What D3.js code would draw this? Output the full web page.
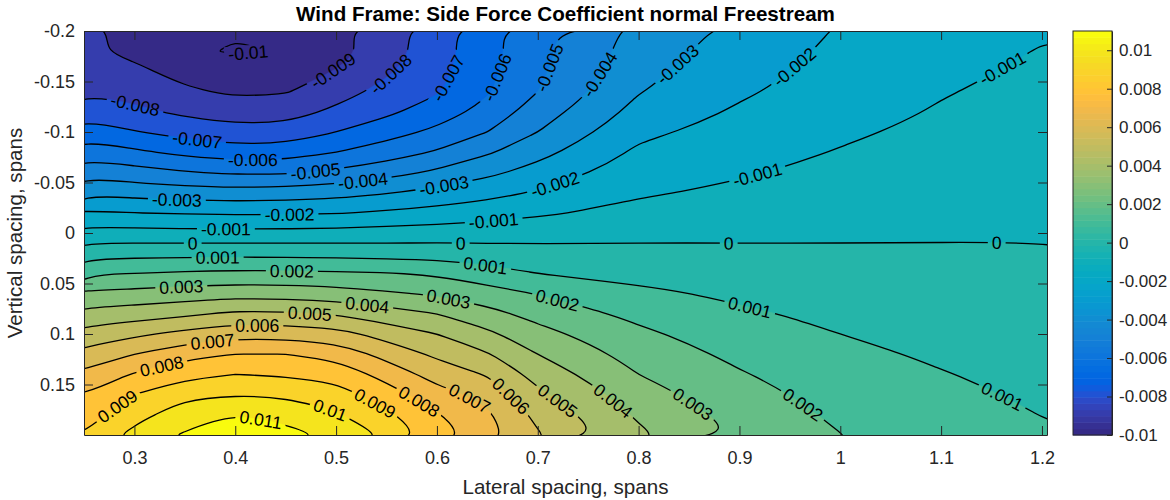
<!DOCTYPE html>
<html>
<head>
<meta charset="utf-8">
<script src="https://cdn.jsdelivr.net/npm/d3@7"></script>
<style>
  body { margin: 0; background: #fff; }
  text { font-family: "Liberation Sans", Arial, Helvetica, sans-serif; }
</style>
</head>
<body>
<div id="chart"></div>
<script>
// Grid columns: lateral spacing (spans)
const lateral = [0.25, 0.3, 0.35, 0.4, 0.45, 0.5, 0.55, 0.6, 0.65, 0.7, 0.8, 0.9, 1.0, 1.1, 1.205];
// Grid rows: vertical spacing (spans), top of plot first
const vertical = [-0.2, -0.18, -0.16, -0.14, -0.12, -0.1, -0.08, -0.06, -0.04, -0.02, 0,
                  0.02, 0.04, 0.06, 0.08, 0.1, 0.12, 0.14, 0.16, 0.18, 0.2];
// Side force coefficient, one row per vertical value, one column per lateral value
const sideForce = [
  [-0.00885, -0.00915, -0.0097, -0.00995, -0.0097, -0.0092, -0.0084, -0.0074, -0.0063, -0.0053, -0.0037, -0.0027, -0.00192, -0.00145, -0.00105],
  [-0.00882, -0.00925, -0.00993, -0.01003, -0.00998, -0.0094, -0.0085, -0.00745, -0.00635, -0.0053, -0.00355, -0.00252, -0.0018, -0.0013, -0.00095],
  [-0.0085, -0.00878, -0.00935, -0.0096, -0.0095, -0.00895, -0.00813, -0.0073, -0.00625, -0.0052, -0.0033, -0.00234, -0.00166, -0.00117, -0.00085],
  [-0.0081, -0.00833, -0.00884, -0.00916, -0.00907, -0.0084, -0.00771, -0.0071, -0.0061, -0.005, -0.00305, -0.00214, -0.0015, -0.00105, -0.00075],
  [-0.00739, -0.00779, -0.00819, -0.0085, -0.00841, -0.0078, -0.0072, -0.0065, -0.00567, -0.0045, -0.00267, -0.00187, -0.00132, -0.00093, -0.00065],
  [-0.00645, -0.00694, -0.00736, -0.00765, -0.0076, -0.007, -0.0064, -0.00578, -0.005, -0.004, -0.00222, -0.00162, -0.00114, -0.00079, -0.00055],
  [-0.00542, -0.00582, -0.00625, -0.00656, -0.0065, -0.006, -0.0055, -0.0049, -0.00413, -0.00333, -0.00182, -0.00136, -0.00095, -0.00064, -0.00045],
  [-0.00429, -0.00462, -0.00493, -0.00515, -0.00514, -0.0048, -0.00438, -0.00382, -0.00323, -0.00263, -0.00147, -0.0011, -0.00074, -0.0005, -0.00035],
  [-0.00312, -0.0034, -0.00353, -0.00362, -0.00354, -0.00338, -0.00307, -0.0027, -0.00235, -0.0019, -0.00112, -0.00081, -0.00053, -0.00036, -0.00025],
  [-0.00188, -0.002, -0.00208, -0.00214, -0.00213, -0.00206, -0.00187, -0.00165, -0.0014, -0.00115, -0.0007, -0.00048, -0.00032, -0.00021, -0.00015],
  [-0.00063, -0.00067, -0.00071, -0.00071, -0.00071, -0.00067, -0.00059, -0.00053, -0.00045, -0.00038, -0.00023, -0.00016, -0.00011, -0.00007, -0.00005],
  [0.00063, 0.00067, 0.00069, 0.00071, 0.00069, 0.00067, 0.00059, 0.00056, 0.00043, 0.00033, 0.00024, 0.00016, 0.00011, 0.00008, 0.00006],
  [0.00188, 0.002, 0.00213, 0.00221, 0.0022, 0.00213, 0.00205, 0.00186, 0.00141, 0.001, 0.00071, 0.00049, 0.00033, 0.00024, 0.00017],
  [0.00318, 0.00331, 0.00347, 0.00364, 0.00357, 0.00343, 0.00313, 0.00286, 0.00243, 0.00195, 0.00121, 0.00082, 0.00056, 0.0004, 0.00029],
  [0.00432, 0.00453, 0.0048, 0.0052, 0.00514, 0.00492, 0.00444, 0.004, 0.00332, 0.00266, 0.00174, 0.00114, 0.00078, 0.00056, 0.0004],
  [0.00537, 0.0058, 0.00629, 0.00669, 0.00662, 0.00636, 0.00561, 0.005, 0.00422, 0.00333, 0.0022, 0.00145, 0.001, 0.00072, 0.00051],
  [0.00633, 0.007, 0.00767, 0.008, 0.008, 0.00767, 0.00665, 0.0058, 0.00508, 0.004, 0.0026, 0.00177, 0.0012, 0.00088, 0.00063],
  [0.00723, 0.0081, 0.00875, 0.009, 0.00891, 0.00867, 0.00762, 0.0066, 0.00592, 0.00463, 0.003, 0.00208, 0.00141, 0.00104, 0.00074],
  [0.008, 0.009, 0.00968, 0.0099, 0.00975, 0.0094, 0.0085, 0.00737, 0.00669, 0.00521, 0.00343, 0.00238, 0.00161, 0.00118, 0.00086],
  [0.00854, 0.00967, 0.01048, 0.01095, 0.01078, 0.0101, 0.0092, 0.00808, 0.00715, 0.00574, 0.00385, 0.00263, 0.00182, 0.00133, 0.00097],
  [0.00905, 0.01025, 0.0111, 0.0113, 0.0112, 0.01075, 0.0097, 0.0086, 0.0074, 0.0061, 0.0042, 0.0029, 0.00202, 0.00148, 0.00109]
];
// Contour levels, every 0.001 from -0.01 to 0.011
const levels = d3.range(-10, 12).map(k => k / 1000);
const xTicks = [0.3, 0.4, 0.5, 0.6, 0.7, 0.8, 0.9, 1, 1.1, 1.2];
const yTicks = [-0.2, -0.15, -0.1, -0.05, 0, 0.05, 0.1, 0.15];
const barTicks = [-0.01, -0.008, -0.006, -0.004, -0.002, 0, 0.002, 0.004, 0.006, 0.008, 0.01];

// MATLAB parula colormap (64 entries)
const parula = [
  [0.2081,0.1663,0.5292],[0.2116,0.1898,0.5777],[0.2123,0.2138,0.6270],[0.2081,0.2386,0.6771],
  [0.1959,0.2645,0.7279],[0.1707,0.2919,0.7792],[0.1253,0.3242,0.8303],[0.0591,0.3598,0.8683],
  [0.0117,0.3875,0.8820],[0.0060,0.4086,0.8828],[0.0165,0.4266,0.8786],[0.0329,0.4430,0.8720],
  [0.0498,0.4586,0.8641],[0.0629,0.4737,0.8554],[0.0723,0.4887,0.8467],[0.0779,0.5040,0.8384],
  [0.0793,0.5200,0.8312],[0.0749,0.5375,0.8263],[0.0641,0.5570,0.8240],[0.0488,0.5772,0.8228],
  [0.0343,0.5966,0.8199],[0.0265,0.6137,0.8135],[0.0239,0.6287,0.8038],[0.0231,0.6418,0.7913],
  [0.0228,0.6535,0.7768],[0.0267,0.6642,0.7607],[0.0384,0.6743,0.7436],[0.0590,0.6838,0.7254],
  [0.0843,0.6928,0.7062],[0.1133,0.7015,0.6859],[0.1453,0.7098,0.6646],[0.1801,0.7177,0.6424],
  [0.2178,0.7250,0.6193],[0.2586,0.7317,0.5954],[0.3022,0.7376,0.5712],[0.3482,0.7424,0.5473],
  [0.3953,0.7459,0.5244],[0.4420,0.7481,0.5033],[0.4871,0.7491,0.4840],[0.5300,0.7491,0.4661],
  [0.5709,0.7485,0.4494],[0.6099,0.7473,0.4337],[0.6473,0.7456,0.4188],[0.6834,0.7435,0.4044],
  [0.7184,0.7411,0.3905],[0.7525,0.7384,0.3768],[0.7858,0.7356,0.3633],[0.8185,0.7327,0.3498],
  [0.8507,0.7299,0.3360],[0.8824,0.7274,0.3217],[0.9139,0.7258,0.3063],[0.9450,0.7261,0.2886],
  [0.9739,0.7314,0.2666],[0.9938,0.7455,0.2403],[0.9990,0.7653,0.2164],[0.9955,0.7861,0.1967],
  [0.9880,0.8066,0.1794],[0.9789,0.8271,0.1633],[0.9697,0.8481,0.1475],[0.9626,0.8705,0.1309],
  [0.9589,0.8949,0.1132],[0.9598,0.9218,0.0948],[0.9661,0.9514,0.0755],[0.9763,0.9831,0.0538]
].map(c => d3.rgb(c[0] * 255, c[1] * 255, c[2] * 255).formatHex());

const FONT = '"Liberation Sans", Arial, Helvetica, sans-serif';
const plot = { x0: 84, x1: 1047, y0: 31, y1: 435 };
const bar = { x0: 1073, x1: 1112 };
const cMin = -0.01, cMax = 0.011;
const labelSize = 17.6;
const labelFirst = 50, labelSpacing = 268;

const svg = d3.select("#chart").append("svg")
  .attr("width", 1170)
  .attr("height", 500);
const defs = svg.append("defs");
defs.append("clipPath").attr("id", "plotClip")
  .append("rect")
  .attr("x", plot.x0).attr("y", plot.y0)
  .attr("width", plot.x1 - plot.x0).attr("height", plot.y1 - plot.y0);

// Scales
const x = d3.scaleLinear().domain([0.25, 1.205]).range([plot.x0, plot.x1]);
const y = d3.scaleLinear().domain([-0.2, 0.2]).range([plot.y0, plot.y1]);
// grid index -> data value (sample i sits at i + 0.5 in d3.contours space)
const nx = lateral.length, ny = vertical.length;
const uToX = d3.scaleLinear().domain(lateral.map((d, i) => i + 0.5)).range(lateral);
const vToY = d3.scaleLinear().domain(vertical.map((d, j) => j + 0.5)).range(vertical);
const toPx = ([u, v]) => [x(uToX(u)), y(vToY(v))];

const colorOf = v => {
  const k = Math.floor((v - cMin) / (cMax - cMin) * 64 + 1e-9);
  return parula[Math.max(0, Math.min(63, k))];
};

// Smoothing: B-spline for long rings (border points tripled so the border stays straight),
// Catmull-Rom for short rings so small loops keep their size.
const isBorder = p => p[0] === 0 || p[0] === nx || p[1] === 0 || p[1] === ny;
const controlPts = (pts, basis) => {
  const out = [];
  pts.forEach(p => {
    const q = toPx(p);
    if (basis && isBorder(p)) out.push(q, q, q); else out.push(q);
  });
  return out;
};
const curvePath = (pts, closed, basis) => {
  const curve = basis
    ? (closed ? d3.curveBasisClosed : d3.curveBasis)
    : (closed ? d3.curveCatmullRomClosed.alpha(0.5) : d3.curveCatmullRom.alpha(0.5));
  return d3.line().curve(curve)(controlPts(pts, basis));
};

const contours = d3.contours()
  .size([nx, ny])
  .thresholds(levels)(sideForce.flat());

const ringBasis = ring => ring.filter(p => !isBorder(p)).length >= 10;

// Filled bands (each level fills everything above it)
const fillG = svg.append("g").attr("clip-path", "url(#plotClip)");
fillG.append("rect")
  .attr("x", plot.x0).attr("y", plot.y0)
  .attr("width", plot.x1 - plot.x0).attr("height", plot.y1 - plot.y0)
  .attr("fill", colorOf(cMin));
fillG.selectAll("path")
  .data(contours)
  .join("path")
  .attr("d", c => c.coordinates.map(poly => poly.map(ring => {
    const pts = ring.slice(0, -1);
    return curvePath(pts, true, ringBasis(pts));
  }).join("")).join(""))
  .attr("fill-rule", "evenodd")
  .attr("fill", d => colorOf(d.value))
  .attr("stroke", d => colorOf(d.value))
  .attr("stroke-width", 0.6);

// Contour lines: rings without the grid border segments
function linesOf(geom) {
  const out = [];
  const onBorder = (a, b) =>
    (a[0] === 0 && b[0] === 0) || (a[0] === nx && b[0] === nx) ||
    (a[1] === 0 && b[1] === 0) || (a[1] === ny && b[1] === ny);
  geom.coordinates.forEach(poly => poly.forEach(ring => {
    const n = ring.length - 1;
    const basis = ringBasis(ring.slice(0, -1));
    const ok = d3.range(n).map(k => !onBorder(ring[k], ring[k + 1]));
    if (ok.every(Boolean)) { out.push({ pts: ring.slice(0, -1), closed: true, basis }); return; }
    const start = ok.indexOf(false);
    let cur = null;
    for (let s = 1; s <= n; s++) {
      const k = (start + s) % n;
      if (ok[k]) {
        if (!cur) cur = [ring[k]];
        cur.push(ring[k + 1]);
      } else if (cur) { out.push({ pts: cur, closed: false, basis }); cur = null; }
    }
    if (cur) out.push({ pts: cur, closed: false, basis });
  }));
  return out;
}

const lines = [];
contours.forEach(c => linesOf(c).forEach(l => lines.push({ value: c.value, ...l })));

const fmt = d => String(+(+d).toFixed(4));

const lineG = svg.append("g").attr("clip-path", "url(#plotClip)")
  .append("g").attr("mask", "url(#gapMask)");
const linePaths = lineG.selectAll("path")
  .data(lines)
  .join("path")
  .attr("d", d => curvePath(d.pts, d.closed, d.basis))
  .attr("fill", "none")
  .attr("stroke", "#000")
  .attr("stroke-width", 1.3)
  .attr("stroke-linejoin", "round");

// measure label widths
const probe = svg.append("text").attr("font-size", labelSize).attr("font-family", FONT);
const widthOf = {};
levels.forEach(v => { probe.text(fmt(v)); widthOf[v] = probe.node().getComputedTextLength(); });
probe.remove();

const inside = p => p[0] >= plot.x0 - 0.5 && p[0] <= plot.x1 + 0.5 && p[1] >= plot.y0 - 0.5 && p[1] <= plot.y1 + 0.5;

function labelRun(run, closed, tw) {
  const cum = [0];
  for (let i = 1; i < run.length; i++) {
    cum.push(cum[i - 1] + Math.hypot(run[i][0] - run[i - 1][0], run[i][1] - run[i - 1][1]));
  }
  const L = cum[cum.length - 1];
  const at = s => {
    const i = Math.max(1, Math.min(cum.length - 1, d3.bisectLeft(cum, s)));
    const f = (s - cum[i - 1]) / ((cum[i] - cum[i - 1]) || 1);
    return [run[i - 1][0] + f * (run[i][0] - run[i - 1][0]), run[i - 1][1] + f * (run[i][1] - run[i - 1][1])];
  };
  const spots = [];
  if (closed) {
    if (L > tw * 1.2) spots.push(L / 2);
  } else {
    for (let s = labelFirst; s <= L - tw / 2 - 2; s += labelSpacing) spots.push(s);
    if (!spots.length && L > tw + 16) spots.push(L / 2);
  }
  return spots.map(s => {
    const p = at(s), a = at(Math.max(0, s - tw / 2)), b = at(Math.min(L, s + tw / 2));
    let ang = Math.atan2(b[1] - a[1], b[0] - a[0]) * 180 / Math.PI;
    if (ang > 90) ang -= 180;
    if (ang < -90) ang += 180;
    return { x: p[0], y: p[1], angle: ang };
  });
}

const labels = [];
linePaths.each(function(d) {
  const len = this.getTotalLength();
  const tw = widthOf[d.value];
  const samples = d3.range(0, len, 1.5).concat([len]).map(s => {
    const p = this.getPointAtLength(s);
    return [p.x, p.y];
  });
  // split into runs that lie inside the axes
  const runs = [];
  let cur = null;
  samples.forEach(p => {
    if (inside(p)) { if (!cur) { cur = []; runs.push(cur); } cur.push(p); }
    else cur = null;
  });
  runs.forEach(run => {
    if (run.length < 3) return;
    let closed = false;
    if (d.closed && runs.length === 1 && run.length === samples.length) {
      closed = true;
      const top = d3.minIndex(run, p => p[1]);
      run = run.slice(top).concat(run.slice(0, top));
    } else if (run[0][0] < run[run.length - 1][0]) {
      run = run.slice().reverse();
    }
    labelRun(run, closed, tw).forEach(p => labels.push({ ...p, tw, text: fmt(d.value) }));
  });
});

// mask that cuts gaps in the lines under each label
const mask = defs.append("mask").attr("id", "gapMask")
  .attr("maskUnits", "userSpaceOnUse")
  .attr("x", 0).attr("y", 0).attr("width", 1170).attr("height", 500);
mask.append("rect").attr("width", 1170).attr("height", 500).attr("fill", "white");
mask.selectAll("rect.gap")
  .data(labels)
  .join("rect")
  .attr("class", "gap")
  .attr("x", d => -d.tw / 2 - 4)
  .attr("y", -labelSize * 0.42)
  .attr("width", d => d.tw + 8)
  .attr("height", labelSize * 0.84)
  .attr("fill", "black")
  .attr("transform", d => `translate(${d.x},${d.y}) rotate(${d.angle})`);

svg.append("g").attr("clip-path", "url(#plotClip)")
  .selectAll("text")
  .data(labels)
  .join("text")
  .attr("transform", d => `translate(${d.x},${d.y}) rotate(${d.angle})`)
  .attr("text-anchor", "middle")
  .attr("dy", "0.36em")
  .attr("font-size", labelSize)
  .attr("fill", "#000")
  .text(d => d.text);

// Axes
const axisColor = "#262626";
const styleAxis = g => g.attr("font-size", 18).attr("font-family", FONT).attr("color", axisColor);

svg.append("g")
  .attr("transform", `translate(0,${plot.y1})`)
  .call(d3.axisBottom(x).tickValues(xTicks).tickFormat(fmt).tickSize(-9).tickSizeOuter(0).tickPadding(16))
  .call(styleAxis);
svg.append("g")
  .attr("transform", `translate(0,${plot.y0})`)
  .call(d3.axisTop(x).tickValues(xTicks).tickFormat("").tickSize(-9).tickSizeOuter(0))
  .call(styleAxis);
svg.append("g")
  .attr("transform", `translate(${plot.x0},0)`)
  .call(d3.axisLeft(y).tickValues(yTicks).tickFormat(fmt).tickSize(-9).tickSizeOuter(0).tickPadding(9))
  .call(styleAxis);
svg.append("g")
  .attr("transform", `translate(${plot.x1},0)`)
  .call(d3.axisRight(y).tickValues(yTicks).tickFormat("").tickSize(-9).tickSizeOuter(0))
  .call(styleAxis);

// Colorbar
const cbar = d3.scaleLinear().domain([cMin, cMax]).range([plot.y1, plot.y0]);
const step = (cMax - cMin) / 64;
svg.append("g").selectAll("rect")
  .data(parula)
  .join("rect")
  .attr("x", bar.x0)
  .attr("width", bar.x1 - bar.x0)
  .attr("y", (d, i) => cbar(cMin + (i + 1) * step))
  .attr("height", (d, i) => cbar(cMin + i * step) - cbar(cMin + (i + 1) * step) + 0.5)
  .attr("fill", d => d);
svg.append("rect")
  .attr("x", bar.x0).attr("y", plot.y0)
  .attr("width", bar.x1 - bar.x0).attr("height", plot.y1 - plot.y0)
  .attr("fill", "none").attr("stroke", axisColor).attr("stroke-width", 1);
svg.append("g")
  .attr("transform", `translate(${bar.x1},0)`)
  .call(d3.axisRight(cbar).tickValues(barTicks).tickFormat(fmt).tickSize(-5).tickSizeOuter(0).tickPadding(7))
  .call(styleAxis)
  .attr("font-size", 17);

// Titles
svg.append("text")
  .attr("x", (plot.x0 + plot.x1) / 2).attr("y", 21)
  .attr("text-anchor", "middle")
  .attr("font-size", 20.6).attr("font-weight", "bold")
  .attr("fill", "#000")
  .text("Wind Frame: Side Force Coefficient normal Freestream");
svg.append("text")
  .attr("x", (plot.x0 + plot.x1) / 2).attr("y", 494)
  .attr("text-anchor", "middle")
  .attr("font-size", 20.6)
  .attr("fill", axisColor)
  .text("Lateral spacing, spans");
svg.append("text")
  .attr("transform", `translate(22,${(plot.y0 + plot.y1) / 2}) rotate(-90)`)
  .attr("text-anchor", "middle")
  .attr("font-size", 20.6)
  .attr("fill", axisColor)
  .text("Vertical spacing, spans");
</script>
</body>
</html>
